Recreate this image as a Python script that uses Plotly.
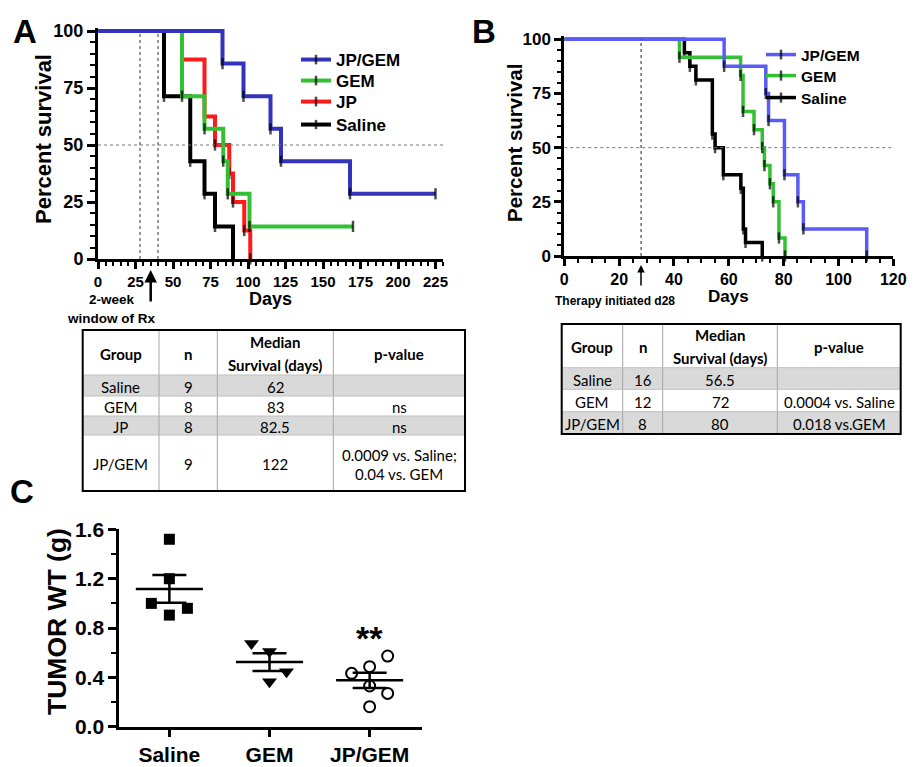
import plotly.graph_objects as go
import numpy as np

W, H = 915, 767
def fx(px): return px / W
def fy(py): return 1 - py / H

# ---------------- Panel A data (Kaplan-Meier steps) ----------------
a_jpgem_t = [0, 83, 97, 115, 122, 168, 225]
a_jpgem_s = [100, 85.7, 71.4, 57.1, 42.9, 28.6, 28.6]
a_gem_t = [0, 56, 71, 83.5, 86.5, 101, 170]
a_gem_s = [100, 71.4, 57.1, 42.9, 28.6, 14.3, 14.3]
a_jp_t = [0, 56, 71, 78, 87.5, 90, 97.5, 101.5]
a_jp_s = [100, 87.5, 62.5, 50, 37.5, 25, 12.5, 0]
a_sal_t = [0, 44, 61.5, 71, 78, 90]
a_sal_s = [100, 71.4, 42.9, 28.6, 14.3, 0]

# ---------------- Panel B data ----------------
b_jpgem_t = [0, 58.3, 73.5, 74.5, 80.3, 85.2, 87.2, 110.3]
b_jpgem_s = [100, 87.5, 75, 62.5, 37.5, 25, 12.5, 0]
b_gem_t = [0, 42, 64.3, 65.2, 69.2, 72.2, 73, 75, 76.2, 78.3, 80.5]
b_gem_s = [100, 91.7, 83.3, 66.7, 58.3, 50, 41.7, 33.3, 25, 8.3, 0]
b_sal_t = [0, 43.8, 45.8, 48, 54, 55, 58, 64.4, 65.3, 66.1, 72.2]
b_sal_s = [100, 93.75, 87.5, 81.25, 56.25, 50, 37.5, 31.25, 12.5, 6.25, 0]

# ---------------- Panel C data ----------------
c_groups = ["Saline", "GEM", "JP/GEM"]
c_saline = [1.52, 1.20, 1.00, 0.96, 0.905]
c_saline_dx = [0, 0, -0.18, 0.18, 0]
c_gem = [0.675, 0.61, 0.445, 0.365]
c_gem_dx = [-0.18, 0, 0.17, 0]
c_jpgem = [0.573, 0.487, 0.433, 0.33, 0.27, 0.162]
c_jpgem_dx = [0.18, 0, -0.18, 0, 0.18, 0]

# ---------------- Tables ----------------
ta_header = ["Group", "n", "Median<br>Survival (days)", "p-value"]
ta_group = ["Saline", "GEM", "JP", "JP/GEM"]
ta_n = ["9", "8", "8", "9"]
ta_median = ["62", "83", "82.5", "122"]
ta_p = ["", "ns", "ns", "0.0009 vs. Saline;<br>0.04 vs. GEM"]

tb_header = ["Group", "n", "Median<br>Survival (days)", "p-value"]
tb_group = ["Saline", "GEM", "JP/GEM"]
tb_n = ["16", "12", "8"]
tb_median = ["56.5", "72", "80"]
tb_p = ["", "0.0004 vs. Saline", "0.018 vs.GEM"]

FONT = "Liberation Sans"
TFONT = "Lato"
BLUE_A = "#3333bb"
BLUE_B = "#5b5bf5"
GREEN = "#33c033"
RED = "#ff1a1a"
GRAY = "#d9d9d9"

fig = go.Figure()

def km(t, s, color, name, xa, ya, legend, lw):
    sizes = [0] + [8] * (len(t) - 1)
    fig.add_trace(go.Scatter(
        x=t, y=s, mode="lines+markers", name=name, xaxis=xa, yaxis=ya, legend=legend,
        line=dict(color=color, width=lw, shape="hv"),
        marker=dict(symbol="line-ns", size=sizes, color="black",
                    line=dict(color="black", width=2.5)),
        cliponaxis=False, hoverinfo="skip"))

km(a_sal_t, a_sal_s, "black", "Saline", "x", "y", "legend4", 4)
km(a_jp_t, a_jp_s, RED, "JP", "x", "y", "legend3", 4)
km(a_gem_t, a_gem_s, GREEN, "GEM", "x", "y", "legend2", 4)
km(a_jpgem_t, a_jpgem_s, BLUE_A, "JP/GEM", "x", "y", "legend", 4)

km(b_sal_t, b_sal_s, "black", "Saline", "x2", "y2", "legend7", 3.5)
km(b_gem_t, b_gem_s, GREEN, "GEM", "x2", "y2", "legend6", 3.5)
km(b_jpgem_t, b_jpgem_s, BLUE_B, "JP/GEM", "x2", "y2", "legend5", 3.5)

# Panel C scatter
c_sets = [(c_saline, c_saline_dx, dict(symbol="square", size=11, color="black")),
          (c_gem, c_gem_dx, dict(symbol="triangle-down", size=13, color="black")),
          (c_jpgem, c_jpgem_dx, dict(symbol="circle-open", size=11, color="black",
                                      line=dict(width=2, color="black")))]
for i, (vals, dx, mk) in enumerate(c_sets):
    xs = [i + d for d in dx]
    fig.add_trace(go.Scatter(x=xs, y=vals, mode="markers", marker=mk, xaxis="x3", yaxis="y3",
                             showlegend=False, cliponaxis=False, hoverinfo="skip"))
    m = float(np.mean(vals))
    sem = float(np.std(vals, ddof=1) / np.sqrt(len(vals)))
    fig.add_trace(go.Scatter(x=[i - 0.335, i + 0.335], y=[m, m], mode="lines",
                             line=dict(color="black", width=2.5), xaxis="x3", yaxis="y3",
                             showlegend=False, hoverinfo="skip"))
    fig.add_trace(go.Scatter(x=[i], y=[m], mode="markers", marker=dict(size=0.1, color="black"),
                             error_y=dict(type="data", array=[sem], visible=True, width=17,
                                          thickness=2.5, color="black"),
                             xaxis="x3", yaxis="y3", showlegend=False, hoverinfo="skip"))

axis_common = dict(showline=True, linewidth=3, linecolor="black", ticks="outside",
                   tickwidth=2.5, tickcolor="black", showgrid=False, zeroline=False,
                   mirror=False, automargin=False)

def leg(x, y, size):
    return dict(x=fx(x), y=fy(y), xanchor="left", yanchor="middle",
                font=dict(family=FONT, size=size, color="black", weight="bold"),
                bgcolor="rgba(0,0,0,0)", borderwidth=0, itemwidth=30)

fig.update_layout(
    template="none",
    width=W, height=H, margin=dict(l=0, r=0, t=0, b=0, autoexpand=False),
    paper_bgcolor="white", plot_bgcolor="white", showlegend=True,
    xaxis=dict(domain=[fx(98), fx(443)], range=[0, 230], anchor="y", tick0=0, dtick=25,
               ticklen=7, tickfont=dict(family=FONT, size=15, color="black", weight="bold"),
               minor=dict(ticks="outside", dtick=5, ticklen=4, tickwidth=2, tickcolor="black"),
               **axis_common),
    yaxis=dict(domain=[fy(259), fy(27.6)], range=[0, 101.5], anchor="x", tick0=0, dtick=25,
               ticklen=8, tickfont=dict(family=FONT, size=18, color="black", weight="bold"),
               minor=dict(ticks="outside", dtick=5, ticklen=5, tickwidth=2, tickcolor="black"),
               **axis_common),
    xaxis2=dict(domain=[fx(564.3), fx(893.3)], range=[0, 120], anchor="y2", tick0=0, dtick=20,
                ticklen=7, tickfont=dict(family=FONT, size=16, color="black", weight="bold"),
                minor=dict(ticks="outside", dtick=5, ticklen=4, tickwidth=2, tickcolor="black"),
                **axis_common),
    yaxis2=dict(domain=[fy(256), fy(36)], range=[0, 101.5], anchor="x2", tick0=0, dtick=25,
                ticklen=7, tickfont=dict(family=FONT, size=17, color="black", weight="bold"),
                minor=dict(ticks="outside", dtick=5, ticklen=4, tickwidth=2, tickcolor="black"),
                **axis_common),
    xaxis3=dict(domain=[fx(119.3), fx(421.7)], range=[-0.5, 2.52], anchor="y3",
                tickmode="array", tickvals=[0, 1, 2], ticktext=c_groups, ticklen=7,
                tickfont=dict(family=FONT, size=21, color="black", weight="bold"),
                **axis_common),
    yaxis3=dict(domain=[fy(726.7), fy(529.4)], range=[0, 1.6], anchor="x3", tick0=0, dtick=0.4,
                tickformat=".1f", ticklen=8,
                tickfont=dict(family=FONT, size=21, color="black", weight="bold"),
                minor=dict(ticks="outside", dtick=0.2, ticklen=5, tickwidth=2, tickcolor="black"),
                **axis_common),
    legend=leg(296, 60, 17), legend2=leg(296, 81, 17), legend3=leg(296, 102, 17),
    legend4=leg(296, 125, 17),
    legend5=leg(761, 55, 15.5), legend6=leg(761, 76, 15.5), legend7=leg(761, 98, 15.5),
)

# reference lines
shapes = []
for xv in [28, 40]:
    shapes.append(dict(type="line", xref="x", yref="y", x0=xv, x1=xv, y0=0, y1=100,
                       line=dict(color="#555555", width=1.2, dash="dot")))
shapes.append(dict(type="line", xref="x", yref="y", x0=0, x1=230, y0=50, y1=50,
                   line=dict(color="#777777", width=1, dash="dot")))
shapes.append(dict(type="line", xref="x2", yref="y2", x0=28, x1=28, y0=0, y1=100,
                   line=dict(color="#444444", width=1.2, dash="dot")))
shapes.append(dict(type="line", xref="x2", yref="y2", x0=0, x1=120, y0=50, y1=50,
                   line=dict(color="#777777", width=1, dash="dot")))

ann = []

# ---------------- tables drawn as filled cells + grid + text ----------------
def draw_table(left, top, col_w, row_h, header, columns, fills, head_ls, cell_ls):
    xs = [left]
    for w in col_w:
        xs.append(xs[-1] + w)
    ys = [top]
    for h in row_h:
        ys.append(ys[-1] + h)
    nrows = len(columns[0])
    for r in range(nrows):
        shapes.append(dict(type="rect", xref="paper", yref="paper", layer="below",
                           x0=fx(xs[0]), x1=fx(xs[-1]), y0=fy(ys[r + 2]), y1=fy(ys[r + 1]),
                           fillcolor=fills[r], line=dict(width=0)))
    for xv in xs[1:-1]:
        shapes.append(dict(type="line", xref="paper", yref="paper", x0=fx(xv), x1=fx(xv),
                           y0=fy(ys[-1]), y1=fy(ys[0]), line=dict(color="#a6a6a6", width=1)))
    for yv in ys[1:-1]:
        shapes.append(dict(type="line", xref="paper", yref="paper", x0=fx(xs[0]), x1=fx(xs[-1]),
                           y0=fy(yv), y1=fy(yv), line=dict(color="#bfbfbf", width=1)))
    shapes.append(dict(type="rect", xref="paper", yref="paper", x0=fx(xs[0]), x1=fx(xs[-1]),
                       y0=fy(ys[-1]), y1=fy(ys[0]), line=dict(color="black", width=2)))

    def put(text, c, r, bold, ls):
        lines = text.split("<br>") if text else []
        cx = (xs[c] + xs[c + 1]) / 2
        cy = (ys[r] + ys[r + 1]) / 2 + 1
        n = len(lines)
        for k, ln in enumerate(lines):
            yy = cy + (k - (n - 1) / 2) * ls
            ann.append(dict(x=fx(cx), y=fy(yy), xref="paper", yref="paper", text=ln,
                            showarrow=False, xanchor="center", yanchor="middle",
                            font=dict(family=TFONT, size=15, color="black",
                                      weight="bold" if bold else "normal")))
    for c, h in enumerate(header):
        put(h, c, 0, True, head_ls)
    for c, col in enumerate(columns):
        for r, v in enumerate(col):
            put(v, c, r + 1, False, cell_ls)

draw_table(82.7, 330, [76.3, 58.3, 116, 131.7], [45, 21, 20, 19, 56],
           ta_header, [ta_group, ta_n, ta_median, ta_p], [GRAY, "white", GRAY, "white"], 23, 19)
draw_table(561.7, 324, [61, 40, 114.6, 123.4], [43.7, 21.6, 22.4, 22.3],
           tb_header, [tb_group, tb_n, tb_median, tb_p], [GRAY, "white", GRAY], 23, 19)

fig.update_layout(shapes=shapes)

def txt(x, y, s, size, angle=0, xanchor="center"):
    return dict(x=fx(x), y=fy(y), xref="paper", yref="paper", text=s, showarrow=False,
                textangle=angle, xanchor=xanchor, yanchor="middle",
                font=dict(family=FONT, size=size, color="black", weight="bold"))

ann += [
    txt(24.5, 31.5, "A", 33), txt(484, 31.5, "B", 33), txt(22, 491, "C", 33),
    txt(43, 139, "Percent survival", 22, -90), txt(270, 299, "Days", 18),
    txt(515, 143, "Percent survival", 20.5, -90), txt(728, 296, "Days", 17),
    txt(57, 622, "TUMOR WT (g)", 26.5, -90),
    txt(111.7, 300, "2-week", 13.5), txt(111, 319, "window of Rx", 13.5),
    txt(615, 301, "Therapy initiated d28", 12),
]
ann.append(dict(x=2, y=0.72, xref="x3", yref="y3", text="**", showarrow=False,
                font=dict(family=FONT, size=34, color="black", weight="bold")))
ann.append(dict(x=fx(150.7), y=fy(270), xref="paper", yref="paper", ax=0, ay=33,
                axref="pixel", ayref="pixel", text="", showarrow=True, arrowhead=2,
                arrowsize=1, arrowwidth=2.5, arrowcolor="black"))
ann.append(dict(x=fx(641), y=fy(265), xref="paper", yref="paper", ax=0, ay=22,
                axref="pixel", ayref="pixel", text="", showarrow=True, arrowhead=2,
                arrowsize=1, arrowwidth=1.5, arrowcolor="black"))
fig.update_layout(annotations=ann)

fig.write_html("out.html", post_script="document.body.style.margin='0px';",
               config={"displayModeBar": False})
